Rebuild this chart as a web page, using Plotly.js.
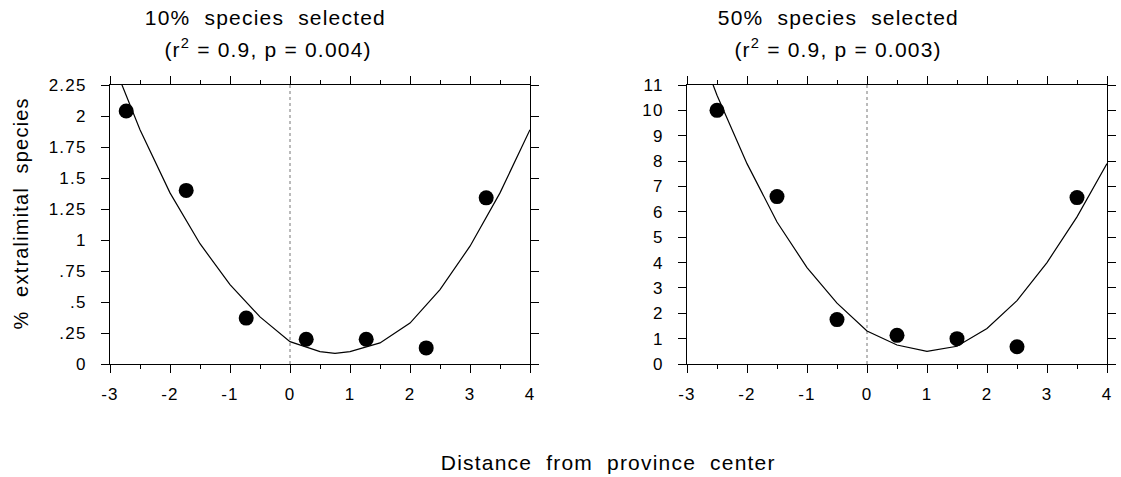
<!DOCTYPE html>
<html>
<head>
<meta charset="utf-8">
<script src="https://cdn.plot.ly/plotly-3.0.1.min.js"></script>
<style>
  html, body { margin: 0; padding: 0; background: #fff; }
  #chart { width: 1121px; height: 477px; }
  #chart svg text { letter-spacing: 1.2px; }
  #chart svg .annotation-text { letter-spacing: 1.2px; }
</style>
</head>
<body>
<div id="chart"></div>
<script>
// ---- Data ----
const xTickVals = [-3, -2, -1, 0, 1, 2, 3, 4];
const xTickText = ["-3", "-2", "-1", "0", "1", "2", "3", "4"];

const leftYTickVals = [0, 0.25, 0.5, 0.75, 1, 1.25, 1.5, 1.75, 2, 2.25];
const leftYTickText = ["0", ".25", ".5", ".75", "1", "1.25", "1.5", "1.75", "2", "2.25"];
const rightYTickVals = [0, 1, 2, 3, 4, 5, 6, 7, 8, 9, 10, 11];
const rightYTickText = ["0", "1", "2", "3", "4", "5", "6", "7", "8", "9", "10", "11"];

// 10% species selected
const leftPointsX = [-2.73, -1.73, -0.73, 0.27, 1.27, 2.27, 3.27];
const leftPointsY = [2.04, 1.40, 0.37, 0.20, 0.20, 0.13, 1.34];
const leftCurveX = [-3, -2.5, -2, -1.5, -1, -0.5, 0, 0.5, 0.75, 1, 1.5, 2, 2.5, 3, 3.5, 4];
const leftCurveY = [2.49, 1.89, 1.38, 0.97, 0.64, 0.38, 0.18, 0.10, 0.085, 0.10, 0.17, 0.33, 0.60, 0.95, 1.38, 1.89];

// 50% species selected
const rightPointsX = [-2.5, -1.5, -0.5, 0.5, 1.5, 2.5, 3.5];
const rightPointsY = [10.0, 6.6, 1.75, 1.13, 1.0, 0.68, 6.56];
const rightCurveX = [-3, -2.5, -2, -1.5, -1, -0.5, 0, 0.5, 1, 1.5, 2, 2.5, 3, 3.5, 4];
const rightCurveY = [13.7, 10.6, 7.9, 5.6, 3.8, 2.4, 1.3, 0.75, 0.5, 0.7, 1.4, 2.5, 4.0, 5.8, 7.9];

const leftTitle1 = "10%&nbsp; species&nbsp; selected";
const leftTitle2 = "(r<sup>2</sup> = 0.9, p = 0.004)";
const rightTitle1 = "50%&nbsp; species&nbsp; selected";
const rightTitle2 = "(r<sup>2</sup> = 0.9, p = 0.003)";
const yLabel = "%&nbsp; extralimital&nbsp; species";
const xLabel = "Distance&nbsp; from&nbsp; province&nbsp; center";

// ---- Chart ----
const FONT = "Liberation Sans, Arial, Helvetica, sans-serif";
const W = 1121, H = 477;

function px(x) { return x / W; }
function py(y) { return (H - y) / H; }

const traces = [
  { x: leftCurveX, y: leftCurveY, xaxis: "x", yaxis: "y", mode: "lines",
    line: { color: "#000", width: 1.2 }, hoverinfo: "skip" },
  { x: leftPointsX, y: leftPointsY, xaxis: "x", yaxis: "y", mode: "markers",
    marker: { color: "#000", size: 15 }, cliponaxis: false },
  { x: rightCurveX, y: rightCurveY, xaxis: "x2", yaxis: "y2", mode: "lines",
    line: { color: "#000", width: 1.2 }, hoverinfo: "skip" },
  { x: rightPointsX, y: rightPointsY, xaxis: "x2", yaxis: "y2", mode: "markers",
    marker: { color: "#000", size: 15 }, cliponaxis: false }
];

const commonAxis = {
  showline: true, linecolor: "#000", linewidth: 1, mirror: "ticks",
  ticks: "outside", ticklen: 8, tickwidth: 1, tickcolor: "#000",
  showgrid: false, zeroline: false, fixedrange: true, automargin: false,
  tickfont: { family: FONT, size: 17, color: "#000" }
};

const yDomain = [py(364), py(85)];

const xAxisBase = Object.assign({}, commonAxis, {
  range: [-3, 4], tickmode: "array", tickvals: xTickVals, ticktext: xTickText,
  ticklabelstandoff: 7,
  minor: { ticks: "outside", ticklen: 4, tickwidth: 1, tickcolor: "#000", dtick: 0.5, tick0: -3, showgrid: false }
});

const layout = {
  width: W, height: H,
  margin: { l: 0, r: 0, t: 0, b: 0 },
  paper_bgcolor: "#fff", plot_bgcolor: "#fff",
  showlegend: false,
  font: { family: FONT, color: "#000" },
  xaxis: Object.assign({}, xAxisBase, { domain: [px(110), px(530)], anchor: "y" }),
  yaxis: Object.assign({}, commonAxis, {
    domain: yDomain, anchor: "x", range: [0, 2.25],
    tickmode: "array", tickvals: leftYTickVals, ticktext: leftYTickText,
    ticklabelstandoff: 11
  }),
  xaxis2: Object.assign({}, xAxisBase, { domain: [px(687), px(1107)], anchor: "y2" }),
  yaxis2: Object.assign({}, commonAxis, {
    domain: yDomain, anchor: "x2", range: [0, 11],
    tickmode: "array", tickvals: rightYTickVals, ticktext: rightYTickText,
    ticklabelstandoff: 11
  }),
  shapes: [
    { type: "line", xref: "x", yref: "y domain", x0: 0, x1: 0, y0: 0, y1: 1,
      line: { color: "#777", width: 1, dash: "dot" }, layer: "below" },
    { type: "line", xref: "x2", yref: "y2 domain", x0: 0, x1: 0, y0: 0, y1: 1,
      line: { color: "#777", width: 1, dash: "dot" }, layer: "below" }
  ],
  annotations: [
    { text: leftTitle1, xref: "paper", yref: "paper", x: px(265), y: py(18),
      showarrow: false, xanchor: "center", yanchor: "middle", font: { family: FONT, size: 21 } },
    { text: leftTitle2, xref: "paper", yref: "paper", x: px(268), y: py(48),
      showarrow: false, xanchor: "center", yanchor: "middle", font: { family: FONT, size: 21 } },
    { text: rightTitle1, xref: "paper", yref: "paper", x: px(838), y: py(18),
      showarrow: false, xanchor: "center", yanchor: "middle", font: { family: FONT, size: 21 } },
    { text: rightTitle2, xref: "paper", yref: "paper", x: px(838), y: py(48),
      showarrow: false, xanchor: "center", yanchor: "middle", font: { family: FONT, size: 21 } },
    { text: yLabel, xref: "paper", yref: "paper", x: px(21), y: py(214), textangle: -90,
      showarrow: false, xanchor: "center", yanchor: "middle", font: { family: FONT, size: 20 } },
    { text: xLabel, xref: "paper", yref: "paper", x: px(608), y: py(462),
      showarrow: false, xanchor: "center", yanchor: "middle", font: { family: FONT, size: 21 } }
  ]
};

Plotly.newPlot("chart", traces, layout, { displayModeBar: false, staticPlot: true });
</script>
</body>
</html>
